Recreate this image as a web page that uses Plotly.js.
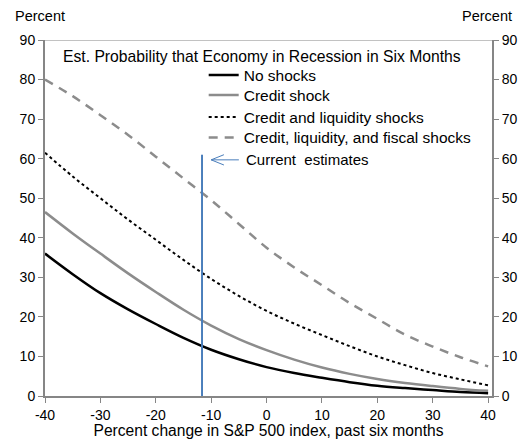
<!DOCTYPE html>
<html>
<head>
<meta charset="utf-8">
<script src="https://cdn.plot.ly/plotly-3.0.1.min.js"></script>
<style>html,body{margin:0;padding:0;background:#fff;}#chart{width:528px;height:439px;}</style>
</head>
<body>
<div id="chart"></div>
<script>
const xVals = [-40,-35,-30,-25,-20,-15,-10,-5,0,5,10,15,20,25,30,35,40];
const noShocks = [36,30.8,26,21.9,18.2,14.7,11.7,9.3,7.3,5.8,4.6,3.5,2.6,2,1.5,1,0.7];
const creditShock = [46.5,41.1,36,31,26.3,21.8,17.8,14.4,11.6,9.2,7.2,5.6,4.3,3.3,2.5,1.8,1.3];
const creditLiquidity = [61.5,55.5,50,44.6,39.5,34.4,29.6,25.3,21.5,18.3,15.4,12.6,10,7.8,5.8,4.2,2.7];
const creditLiquidityFiscal = [80,75.8,71,66,60.5,55,49.5,43.5,37.5,32.5,28,23.5,19.5,15.5,12.5,9.8,7.5];
const seriesNames = ["No shocks","Credit shock","Credit and liquidity shocks","Credit, liquidity, and fiscal shocks"];
const currentX = -11.65;
const currentRange = [0, 61];
const xTicks = [-40,-30,-20,-10,0,10,20,30,40];
const yTicks = [0,10,20,30,40,50,60,70,80,90];

const FONT = '"Liberation Sans", Arial, sans-serif';
const axisGray = '#868686';

const traces = [
  {x:xVals, y:noShocks, name:seriesNames[0], legend:'legend', mode:'lines', line:{color:'#000000', width:2.5, shape:'spline'}},
  {x:xVals, y:creditShock, name:seriesNames[1], legend:'legend2', mode:'lines', line:{color:'#8c8c8c', width:2.5, shape:'spline'}},
  {x:xVals, y:creditLiquidity, name:seriesNames[2], legend:'legend3', mode:'lines', line:{color:'#000000', width:2, dash:'dot', shape:'spline'}},
  {x:xVals, y:creditLiquidityFiscal, name:seriesNames[3], legend:'legend4', mode:'lines', line:{color:'#8c8c8c', width:2.5, dash:'9px,7px', shape:'spline'}},
  {x:[currentX,currentX], y:currentRange, yaxis:'y2', mode:'lines', line:{color:'#4a7ebb', width:2}, showlegend:false, hoverinfo:'skip'}
];

function leg(y){
  return {x:0.355, y:y, xanchor:'left', yanchor:'top', bgcolor:'rgba(0,0,0,0)', font:{family:FONT, size:15.5, color:'#000'}, itemwidth:30};
}

const layout = {
  width:528, height:439,
  margin:{l:45, r:36, t:40, b:43},
  paper_bgcolor:'#ffffff', plot_bgcolor:'#ffffff',
  font:{family:FONT, size:14, color:'#000000'},
  showlegend:true,
  legend:leg(0.948), legend2:leg(0.8919), legend3:leg(0.830), legend4:leg(0.773),
  xaxis:{range:[-40,40.7], tickvals:xTicks, ticktext:xTicks.map(String), ticks:'outside', ticklen:5, tickcolor:axisGray, tickwidth:1,
         showline:true, linecolor:axisGray, linewidth:2, mirror:false, showgrid:false, zeroline:false,
         tickfont:{family:FONT, size:14}, title:{text:'Percent change in S&P 500 index, past six months', font:{family:FONT, size:15.6}, standoff:1}},
  yaxis:{range:[0,90], tickvals:yTicks, ticks:'outside', ticklen:5, tickcolor:axisGray, tickwidth:1,
         showline:true, linecolor:axisGray, linewidth:2, showgrid:false, zeroline:false, tickfont:{family:FONT, size:14}},
  yaxis2:{range:[0,90], tickvals:yTicks, overlaying:'y', side:'right', ticks:'outside', ticklen:5, tickcolor:axisGray, tickwidth:1,
         showline:true, linecolor:axisGray, linewidth:2, showgrid:false, zeroline:false, tickfont:{family:FONT, size:14}},
  shapes:[
    {type:'line', xref:'paper', yref:'y', x0:0, x1:1, y0:90, y1:90, line:{color:axisGray, width:1}},
    {type:'line', xref:'x', yref:'y', x0:-5.0, x1:-10.0, y0:59.7, y1:59.7, line:{color:'#4a7ebb', width:1}},
    {type:'path', xref:'x', yref:'y', path:'M -7.7,61.0 L -10.0,59.7 L -7.7,58.4', line:{color:'#4a7ebb', width:1}}
  ],
  annotations:[
    {xref:'paper', yref:'paper', x:-0.0716, y:1.04, xanchor:'left', yanchor:'bottom', text:'Percent', showarrow:false, font:{family:FONT, size:14.5}},
    {xref:'paper', yref:'paper', x:1.049, y:1.04, xanchor:'right', yanchor:'bottom', text:'Percent', showarrow:false, font:{family:FONT, size:14.5}},
    {xref:'paper', yref:'paper', x:0.486, y:0.953, xanchor:'center', yanchor:'middle', text:'Est. Probability that Economy in Recession in Six Months', showarrow:false, font:{family:FONT, size:15.7}},
    {xref:'x', yref:'y', x:-4.1, y:59.7, xanchor:'left', yanchor:'middle', text:'Current  estimates', showarrow:false, font:{family:FONT, size:15}}
  ]
};

Plotly.newPlot('chart', traces, layout, {staticPlot:true, displayModeBar:false});
</script>
</body>
</html>
